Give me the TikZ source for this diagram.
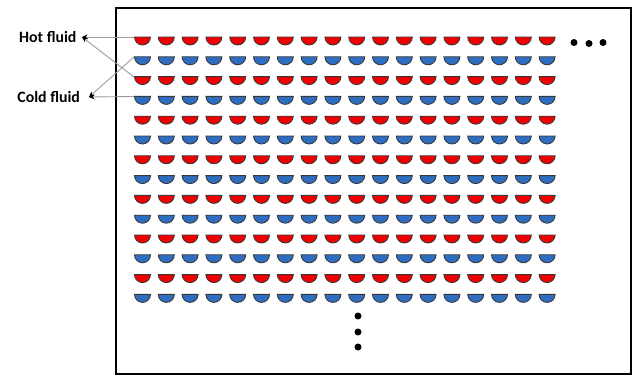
\documentclass[tikz,border=0pt]{standalone}
\usepackage{fontspec}
\setmainfont{Carlito}
\usetikzlibrary{arrows.meta}

\definecolor{cupred}{HTML}{F00000}
\definecolor{cupblue}{HTML}{2E6DC0}
\definecolor{cupedge}{HTML}{383838}
\definecolor{leadgray}{HTML}{9A9A9A}

\begin{document}
\begin{tikzpicture}[x=0.02cm, y=-0.02cm,
  fluid/.style={font=\fontsize{9}{11}\selectfont\bfseries, inner sep=2pt},
  lead/.style={leadgray, line width=0.5pt,
    -{Stealth[black, length=3.2pt, width=2.8pt]}},
  cup/.style={draw=cupedge, line width=0.5pt}]
\useasboundingbox (0,0) rectangle (636,376);

% ============================================================== the frame
\draw[line width=1.6pt] (116,8) rectangle (631,374);

% ============================================ rows of half-cups, 18 a row
% Hot rows first, cold rows in between; flat side up, round side down.
\foreach \r in {0,2,...,12}
  \foreach \c in {0,...,17}
    \draw[cup, fill=cupred] (134.5+23.8*\c,37+19.8*\r) arc (180:0:8) -- cycle;
\foreach \r in {1,3,...,13}
  \foreach \c in {0,...,17}
    \draw[cup, fill=cupblue] (134.5+23.8*\c,37+19.8*\r) arc (180:0:8) -- cycle;

% ================================================= the "and so on" dots
\foreach \x/\y in {574/42.5, 589/43.5, 603/42.5}
  \fill (\x,\y) circle (3.5);
\foreach \y in {316, 332, 347}
  \fill (358,\y) circle (3.5);

% ============================================================ the labels
\coordinate (row1) at (134,37);
\coordinate (row2) at (134,57);
\coordinate (row3) at (134,77);
\coordinate (row4) at (134,96.5);

\node[fluid, anchor=east, inner xsep=3pt] (hot) at (82,37) {Hot fluid};
\node[fluid, anchor=east, inner xsep=5pt] (cold) at (89,97) {Cold fluid};

\draw[lead] (row1) -- (hot.east);
\draw[lead] (row3) -- (hot.east);
\draw[lead] (row2) -- (cold.east);
\draw[lead] (row4) -- (cold.east);

\end{tikzpicture}
\end{document}
